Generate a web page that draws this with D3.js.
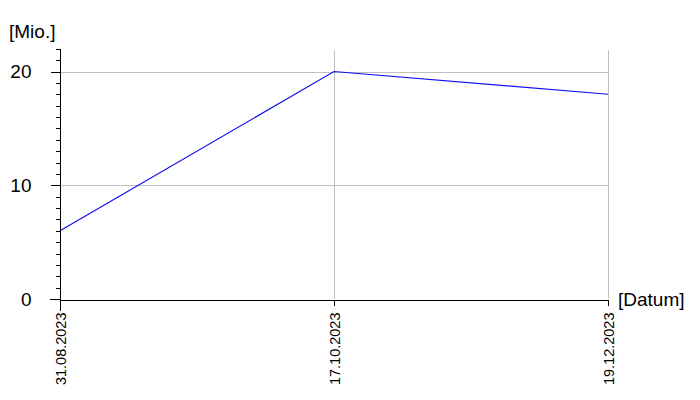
<!DOCTYPE html>
<html><head><meta charset="utf-8">
<script src="https://cdn.jsdelivr.net/npm/d3@7/dist/d3.min.js"></script>
<style>body{margin:0;background:#fff}svg{display:block}text{font-family:"Liberation Sans",Arial,sans-serif;fill:#000}</style>
</head><body><svg id="c" width="700" height="400"></svg>
<script>
const categories = ["31.08.2023", "17.10.2023", "19.12.2023"];
const values = [6.0, 20.0, 18.0];
const yMajorTicks = [0, 10, 20];
const yMinorTicks = d3.range(0, 23, 1);
const yUnit = "[Mio.]";
const xUnit = "[Datum]";

const svg = d3.select("#c");
const mLeft = 60, mRight = 608, mTop = 48.75, mBottom = 299;
const x = d3.scalePoint().domain(categories).range([mLeft, mRight]);
const y = d3.scaleLinear().domain([0, 22]).range([mBottom, mTop]);

// grid
const g = svg.append("g").attr("shape-rendering", "crispEdges");
g.selectAll(".hg").data(yMajorTicks.filter(d => d > 0)).join("line")
  .attr("x1", mLeft).attr("x2", mRight)
  .attr("y1", d => Math.round(y(d)) + 0.5).attr("y2", d => Math.round(y(d)) + 0.5)
  .attr("stroke", "#c0c0c0");
g.selectAll(".vg").data(categories.slice(1)).join("line")
  .attr("x1", d => Math.round(x(d)) + 0.5).attr("x2", d => Math.round(x(d)) + 0.5)
  .attr("y1", 50).attr("y2", mBottom)
  .attr("stroke", "#c0c0c0");

// line
svg.append("path").datum(values)
  .attr("fill", "none").attr("stroke", "#1010f0").attr("stroke-width", 1.2)
  .attr("d", d3.line().x((d, i) => x(categories[i])).y(d => y(d)));

// y axis
const yMinor = d3.axisLeft(y).tickValues(yMinorTicks).tickSize(5).tickFormat("");
const yAx = svg.append("g").attr("transform", `translate(${mLeft + 0.5},0)`).call(yMinor);
yAx.select(".domain").remove();
yAx.selectAll("line").attr("stroke", "#000");
const yMaj = svg.append("g").attr("transform", `translate(${mLeft + 0.5},0)`)
  .call(d3.axisLeft(y).tickValues(yMajorTicks).tickSize(10).tickPadding(19).tickFormat(d3.format("d")));
yMaj.select(".domain").remove();
yMaj.selectAll("line").attr("stroke", "#000");
yMaj.selectAll("text").attr("font-size", 19).attr("font-family", '"Liberation Sans",Arial,sans-serif');
svg.selectAll("g line").attr("shape-rendering", "crispEdges");
svg.append("line").attr("x1", mLeft + 0.5).attr("x2", mLeft + 0.5).attr("y1", 50).attr("y2", 311)
  .attr("stroke", "#000").attr("shape-rendering", "crispEdges");

// x axis
const xAx = svg.append("g").attr("transform", `translate(0,${mBottom + 0.5})`)
  .call(d3.axisBottom(x).tickSize(6).tickSizeOuter(0));
xAx.select(".domain").attr("stroke", "#000").attr("shape-rendering", "crispEdges");
xAx.selectAll("line").attr("stroke", "#000").attr("shape-rendering", "crispEdges");
xAx.selectAll("text")
  .attr("font-size", 14.5).attr("font-family", '"Liberation Sans",Arial,sans-serif')
  .attr("text-anchor", "end")
  .attr("transform", "rotate(-90)")
  .attr("x", -13).attr("y", 0).attr("dy", "0.35em");
svg.append("line").attr("x1", 50).attr("x2", mLeft).attr("y1", mBottom + 0.5).attr("y2", mBottom + 0.5)
  .attr("stroke", "#000").attr("shape-rendering", "crispEdges");

// unit labels
svg.append("text").attr("x", 9).attr("y", 38).attr("font-size", 19).text(yUnit);
svg.append("text").attr("x", 618).attr("y", 306).attr("font-size", 19).text(xUnit);
</script></body></html>
